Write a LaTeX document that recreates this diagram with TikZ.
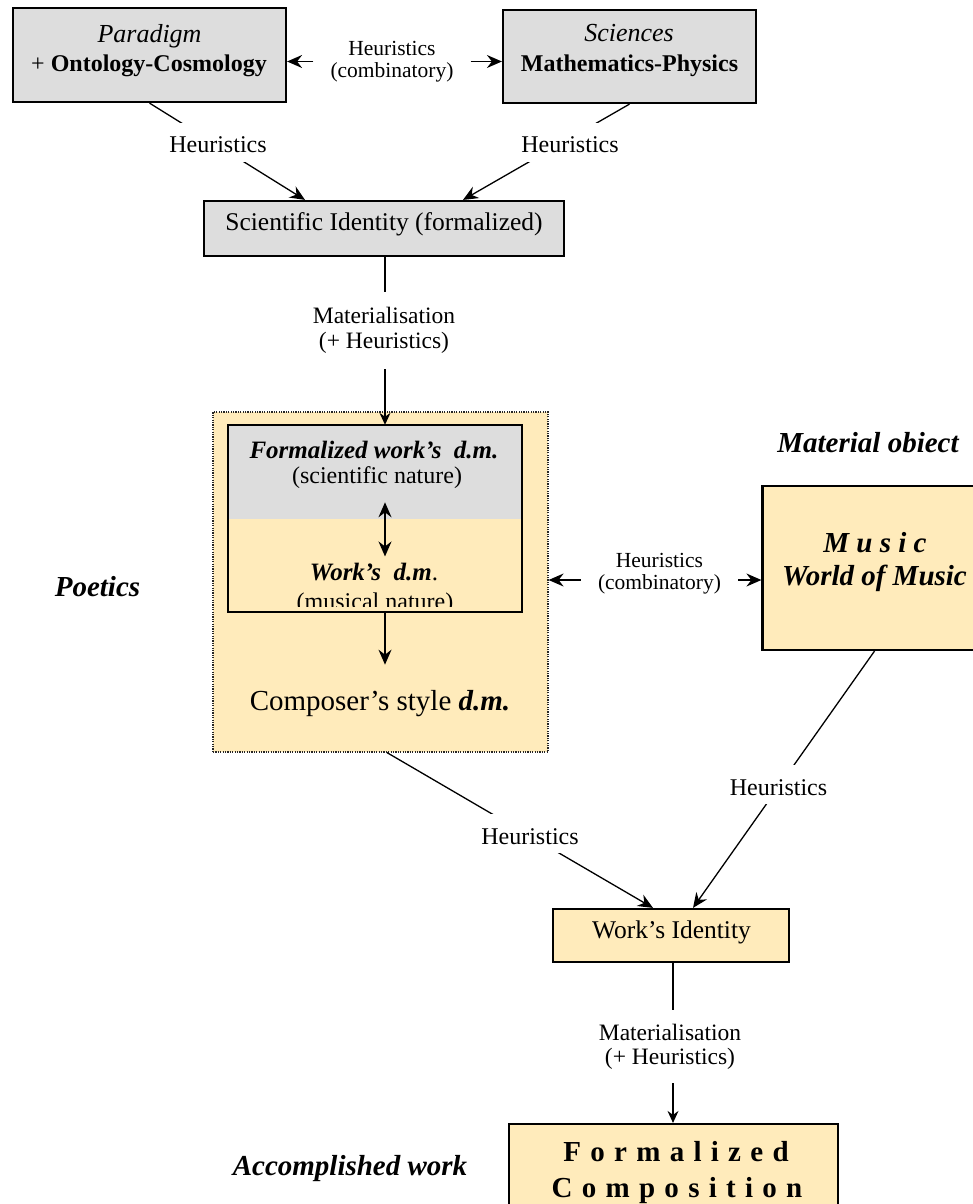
\documentclass[tikz,border=0pt]{standalone}
\usepackage{fontspec}
\setmainfont{Liberation Serif}
\usetikzlibrary{arrows.meta,calc}
\definecolor{boxgray}{RGB}{221,221,221}
\definecolor{cream}{RGB}{255,235,187}
\newcommand\fsz[2]{\fontsize{#1pt}{#2pt}\selectfont}
\begin{document}
\begin{tikzpicture}[x=1pt,y=-1pt,
  >={Stealth[length=15pt,width=13pt,inset=5pt]},
  box/.style={draw=black, line width=2.2pt, inner sep=0pt},
  txt/.style={inner sep=0pt, anchor=base},
  heur/.style={font=\fsz{24}{28}, text height=21pt, text depth=0pt, inner xsep=3pt, inner ysep=9pt, fill=white},
  two/.style={align=center, inner xsep=17pt, inner ysep=15pt},
  conn/.style={line width=1.3pt},
  arr/.style={conn, ->},
  darr/.style={conn, <->},
  sarr/.style={line width=1.1pt, -{Stealth[length=12pt,width=11pt,inset=4pt]}},
  bi/.style={font=\fsz{29}{34}\bfseries\itshape}
]
\useasboundingbox (0,0) rectangle (973,1204);
\fill[white] (0,0) rectangle (973,1204);
\clip (0,0) rectangle (973,1204);

% ---------- top boxes ----------
\node[box, fill=boxgray, minimum width=273pt, minimum height=94pt] (para) at (149.5,55) {};
\node[txt, font=\fsz{26}{30}\itshape] (paraA) at (149.5,42.5) {Paradigm};
\node[txt, font=\fsz{24}{30}] (paraB) at (149,72) {+ \textbf{Ontology-Cosmology}};

\node[box, fill=boxgray, minimum width=253pt, minimum height=93pt] (sci) at (629.5,56.5) {};
\node[txt, font=\fsz{26}{30}\itshape] (sciA) at (629,42) {Sciences};
\node[txt, font=\fsz{24}{30}\bfseries] (sciB) at (629.5,71.5) {Mathematics-Physics};

\node[two, font=\fsz{21.5}{22.5}] (comb1) at (392,61.5) {Heuristics\\(combinatory)};
\draw[arr] (comb1.west) -- (comb1.west -| para.east);
\draw[arr] (comb1.east) -- (comb1.east -| sci.west);

% ---------- scientific identity ----------
\node[box, fill=boxgray, minimum width=360pt, minimum height=55pt] (sciid) at (384,228.5) {};
\node[txt, font=\fsz{25.5}{30}] (sciidT) at (384,230) {Scientific Identity (formalized)};

\draw[arr] (para.south) -- ($(sciid.north)+(-79,0)$);
\draw[arr] (sci.south) -- ($(sciid.north)+(79,0)$);
\node[heur] (h1) at (218,142.5) {Heuristics};
\node[heur] (h2) at (570,142.5) {Heuristics};

% ---------- poetics block ----------
\node[draw=black!85, line width=1.2pt, dash pattern=on 1.2pt off 1.2pt, fill=cream,
      minimum width=335pt, minimum height=340pt, inner sep=0pt] (outer) at (380.5,582) {};
\node[fill=cream, minimum width=294pt, minimum height=187pt, inner sep=0pt] (inner) at (375,518.5) {};
\fill[boxgray] (inner.north west) rectangle ($(inner.north east)+(0,94)$);
\draw[line width=2.2pt] (inner.north west) rectangle (inner.south east);

\coordinate (ax) at (385,0);
\draw[sarr] (sciid.south -| ax) -- (inner.north -| ax);
\node[two, fill=white, font=\fsz{23.5}{25.5}] (mat1) at (384,330.5) {Materialisation\\(+ Heuristics)};

\node[txt, font=\fsz{25}{30}\bfseries\itshape] (t1) at (374,458) {Formalized work’s\ \ d.m.};
\node[txt, font=\fsz{24}{28}] (t2) at (377,483) {(scientific nature)};
\node[txt, font=\fsz{25}{30}] (t3) at (374,580) {\textbf{\textit{Work’s\ \ d.m}}.};
\begin{scope}
  \clip (inner.north west) rectangle ($(inner.south east)+(0,-6)$);
  \node[txt, font=\fsz{24}{28}] (t4) at (375,609) {(musical nature)};
\end{scope}
\node[txt, font=\fsz{29}{34}] (t5) at (380,710) {Composer’s style \textbf{\textit{d.m.}}};
\draw[darr] ($(t2.south -| ax)+(0,14)$) -- ($(t3.north -| ax)+(0,-6)$);
\draw[arr] (inner.south -| ax) -- ($(t5.north -| ax)+(0,-25)$);

\node[txt, bi] (poet) at (97.5,596) {Poetics};

% ---------- music ----------
\node[txt, bi] (matobj) at (868,452) {Material obiect};
\node[box, fill=cream, minimum width=224pt, minimum height=164pt] (music) at (874.5,568) {};
\node[txt, bi] (muA) at (875,552) {M u s i c};
\node[txt, bi] (muB) at (874.5,585) {World of Music};

\node[two, font=\fsz{21.5}{22.5}] (comb2) at (659.5,573.5) {Heuristics\\(combinatory)};
\draw[arr] ([yshift=-6.5pt]comb2.west) -- ([yshift=-6.5pt]comb2.west -| outer.east);
\draw[arr] ([yshift=-6.5pt]comb2.east) -- ([yshift=-6.5pt]comb2.east -| music.west);

% ---------- work's identity ----------
\node[box, fill=cream, minimum width=236pt, minimum height=53pt] (works) at (671,935.5) {};
\node[txt, font=\fsz{25.5}{30}] (worksT) at (671.5,938) {Work’s Identity};

\draw[arr] ($(outer.south)+(6.5,0)$) -- ($(works.north)+(-18,0)$);
\draw[arr] (music.south) -- ($(works.north)+(22,0)$);
\node[heur] (h3) at (530,833.5) {Heuristics};
\node[heur] (h4) at (778.5,784.5) {Heuristics};

% ---------- formalized composition ----------
\node[box, fill=cream, minimum width=329pt, minimum height=120pt] (fc) at (673.5,1184) {};
\node[txt, font=\fsz{29}{34}\bfseries\addfontfeature{LetterSpace=32}] (fcA) at (676,1161) {Formalized};
\node[txt, font=\fsz{29}{34}\bfseries\addfontfeature{LetterSpace=32}] (fcB) at (677,1197) {Composition};

\coordinate (bx) at (673,0);
\draw[sarr] (works.south -| bx) -- (fc.north -| bx);
\node[align=center, inner xsep=17pt, inner ysep=14pt, fill=white, font=\fsz{23.5}{24}] (mat2) at (670,1046.5) {Materialisation\\(+ Heuristics)};

\node[txt, bi] (accw) at (350,1175) {Accomplished work};
\end{tikzpicture}
\end{document}
